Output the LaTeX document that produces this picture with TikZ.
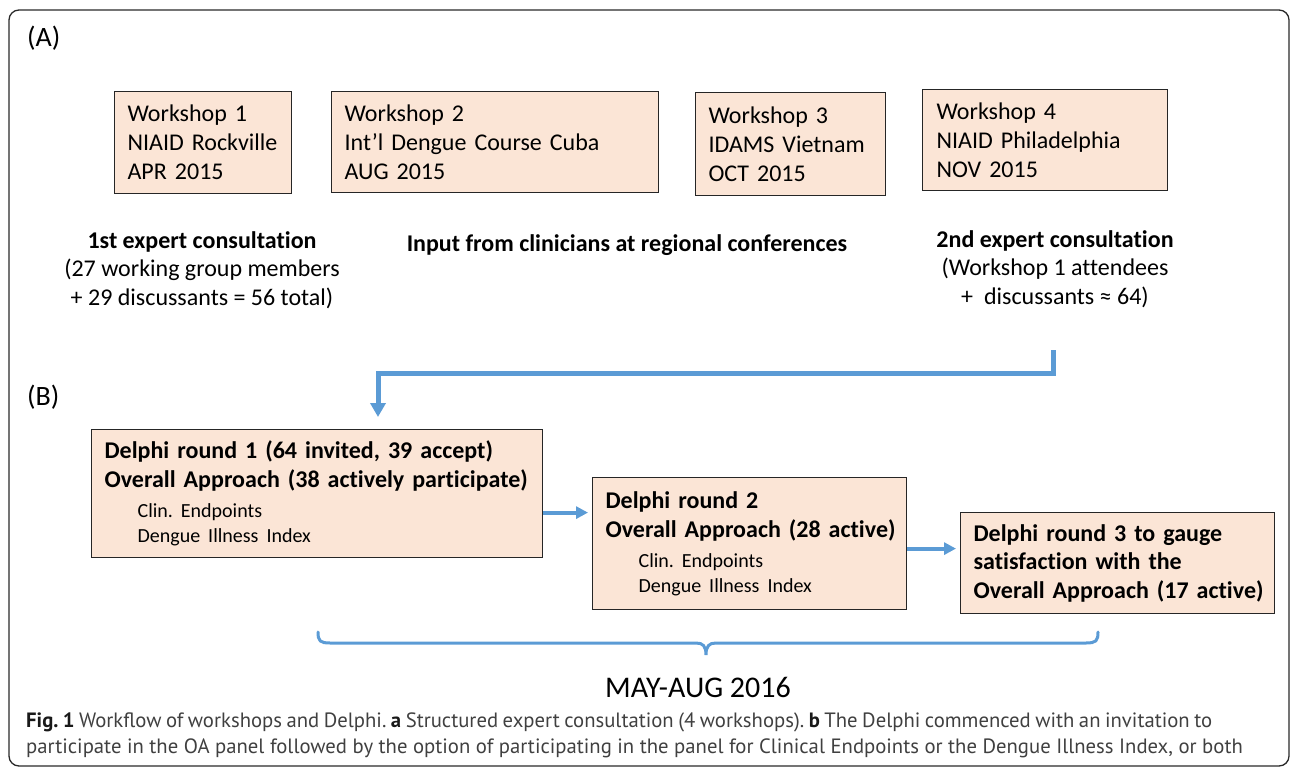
\documentclass[tikz,border=0pt]{standalone}
\usepackage{fontspec}
\setmainfont{Carlito}[Ligatures=NoCommon]
\newfontfamily\capfont{PT Sans}
\usetikzlibrary{arrows.meta}
\setlength{\parindent}{0pt}
\frenchspacing
\definecolor{peach}{HTML}{FBE5D6}
\definecolor{oablue}{HTML}{5B9BD5}
\definecolor{frameline}{HTML}{2A2A2A}
\begin{document}
\frenchspacing
\begin{tikzpicture}[x=1pt,y=-1pt,
  box/.style={draw=black!85, line width=1.2pt, fill=peach, anchor=north west,
    inner xsep=13pt, inner ysep=0pt, align=left},
  wbox/.style={box, font=\fontsize{24}{29}\selectfont},
  dbox/.style={box, font=\fontsize{24}{29}\selectfont},
  lab/.style={inner sep=0pt, align=center, font=\fontsize{24}{28.5}\selectfont},
  panel/.style={inner sep=0pt, anchor=base west, font=\fontsize{28}{34}\selectfont},
  bigarr/.style={draw=oablue, line width=5pt, -{Triangle[width=15pt,length=14pt]}},
  smallarr/.style={draw=oablue, line width=4pt, -{Triangle[width=12pt,length=12pt]}},
  bracestyle/.style={draw=oablue, line width=3pt, line cap=round},
  capt/.style={inner sep=0pt, anchor=base west, text=black!75, font=\capfont\fontsize{20.7}{24}\selectfont}
]
\useasboundingbox (0,0) rectangle (1292,770);
\draw[frameline, line width=1.3pt, rounded corners=10pt] (9,10) rectangle (1289,766);

\node[panel] (pa) at (27,47) {(A)};
\node[panel] (pb) at (27,405) {(B)};

% workshops
\node[wbox, text width=151pt, minimum height=102pt] (w1) at (114,91)
  {\mbox{Workshop 1}\\\mbox{NIAID Rockville}\\\mbox{APR 2015}};
\node[wbox, text width=301pt, minimum height=101pt] (w2) at (331,91)
  {\mbox{Workshop 2}\\\mbox{Int’l Dengue Course Cuba}\\\mbox{AUG 2015}};
\node[wbox, text width=164pt, minimum height=103pt] (w3) at (695,92)
  {\mbox{Workshop 3}\\\mbox{IDAMS Vietnam}\\\mbox{OCT 2015}};
\node[wbox, inner xsep=14pt, text width=217pt, minimum height=101pt] (w4) at (922,89)
  {\mbox{Workshop 4}\\\mbox{NIAID Philadelphia}\\\mbox{NOV 2015}};

% labels
\node[lab] (l1) at (202,270) {\textbf{1st expert consultation}\\(27 working group members\\+ 29 discussants = 56 total)};
\node[lab, anchor=base] (l2) at (627,251) {\textbf{Input from clinicians at regional conferences}};
\node[lab] (l3) at (1055,269) {\textbf{2nd expert consultation}\\(Workshop 1 attendees\\+\ \ discussants ≈ 64)};

% Delphi rounds
\node[dbox, text width=425pt, minimum height=128pt] (d1) at (91,429)
  {\textbf{\mbox{Delphi round 1 (64 invited, 39 accept)}}\par
   \textbf{\mbox{Overall Approach (38 actively participate)}}\par\vspace{5pt}
   {\fontsize{20}{25}\selectfont\hspace*{33pt}\mbox{Clin. Endpoints}\par
   \hspace*{33pt}\mbox{Dengue Illness Index}\par}};
\node[dbox, text width=288pt, minimum height=132pt] (d2) at (592,477)
  {\textbf{\mbox{Delphi round 2}}\par
   \textbf{\mbox{Overall Approach (28 active)}}\par\vspace{5pt}
   {\fontsize{20}{25}\selectfont\hspace*{33pt}\mbox{Clin. Endpoints}\par
   \hspace*{33pt}\mbox{Dengue Illness Index}\par}};
\node[dbox, text width=288pt, minimum height=101pt, font=\fontsize{24}{28.5}\selectfont\bfseries] (d3) at (960,512)
  {\mbox{Delphi round 3 to gauge}\\\mbox{satisfaction with the}\\\mbox{Overall Approach (17 active)}};

% connectors
\coordinate (c0) at (1053,350);
\coordinate (c1) at (378,373);
\draw[bigarr, shorten >=12pt] (c0) |- (c1) -- (c1 |- d1.north);
\path ([yshift=-19pt]d1.east) coordinate (a1);
\draw[smallarr, shorten >=4pt] (a1) -- (a1 -| d2.west);
\path ([yshift=-5pt]d2.east) coordinate (a2);
\draw[smallarr, shorten >=4pt] (a2) -- (a2 -| d3.west);

% brace
\coordinate (bl) at (318,632);
\coordinate (bm) at (706,655);
\coordinate (br) at (1098,632);
\draw[bracestyle] (bl) .. controls (318,641) and (320,643) .. (330,643) -- (696,643)
  .. controls (703,643) and (706,646) .. (bm)
  .. controls (706,646) and (709,643) .. (716,643) -- (1086,643)
  .. controls (1096,643) and (1098,641) .. (br);

\node[inner sep=0pt, anchor=base, font=\fontsize{30}{36}\selectfont] (may) at (698,697) {MAY-AUG 2016};

% caption
\node[capt] (cap1) at (26,727) {\makebox[1186pt][s]{\textbf{\color{black!90}Fig. 1} Workflow of workshops and Delphi. \textbf{\color{black!90}a} Structured expert consultation (4 workshops). \textbf{\color{black!90}b} The Delphi commenced with an invitation to}};
\node[capt] (cap2) at (26,753) {participate in the OA panel followed by the option of participating in the panel for Clinical Endpoints or the Dengue Illness Index, or both};
\end{tikzpicture}
\end{document}
